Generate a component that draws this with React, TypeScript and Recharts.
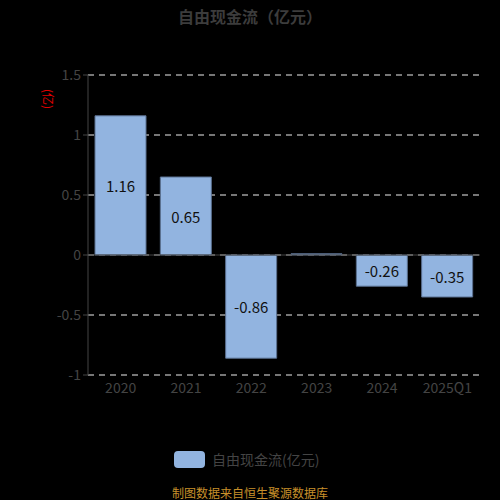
import { Bar, BarChart, CartesianGrid, LabelList, ReferenceLine, XAxis, YAxis } from 'recharts';

const years = ['2020', '2021', '2022', '2023', '2024', '2025Q1'];
const cashFlow = [1.16, 0.65, -0.86, 0.01, -0.26, -0.35];
const yTicks = [-1, -0.5, 0, 0.5, 1, 1.5];

const chartData = years.map((year, i) => ({ year, value: cashFlow[i] }));

const FONT = "'Noto Sans CJK SC', 'Noto Sans', sans-serif";
const GREY = '#444444';
const BAR = '#92b4e0';

// small values (2023) get no label in the original
const barLabel = (props: any) => {
  const { x, y, width, height, value } = props;
  if (Math.abs(value) < 0.05) return null;
  return (
    <text
      x={x + width / 2}
      y={y + height / 2}
      textAnchor="middle"
      dominantBaseline="central"
      fill="#111"
      fontSize={15}
      fontFamily={FONT}
    >
      {value}
    </text>
  );
};

export default function App() {
  return (
    <div style={{ position: 'absolute', left: 0, top: 0, width: 500, height: 500, background: '#000', fontFamily: FONT }}>
      <div style={{ position: 'absolute', top: 4, width: 500, textAlign: 'center', color: '#3c3c3c', fontSize: 16, fontWeight: 'bold' }}>
        自由现金流（亿元）
      </div>
      <BarChart width={500} height={500} data={chartData} margin={{ top: 75, right: 20, bottom: 95, left: 0 }}>
        <CartesianGrid horizontal vertical={false} stroke="#eeeeee" strokeDasharray="6 5" />
        <XAxis
          dataKey="year"
          axisLine={false}
          tickLine={false}
          tick={{ fill: GREY, fontSize: 14, fontFamily: FONT }}
          interval={0}
          height={30}
        />
        <YAxis
          width={88}
          domain={[-1, 1.5]}
          ticks={yTicks}
          interval={0}
          axisLine={{ stroke: GREY }}
          tickLine={{ stroke: GREY }}
          tickSize={5}
          tick={{ fill: GREY, fontSize: 14, fontFamily: FONT }}
          label={{ value: '(亿)', angle: 90, position: 'insideTopLeft', offset: 0, dx: 52, dy: 14, fill: '#e00000', fontSize: 12 } as any}
        />
        <ReferenceLine y={0} stroke={GREY} strokeWidth={1} />
        <Bar dataKey="value" fill={BAR} stroke="#5b7090" strokeWidth={1} barSize={51} isAnimationActive={false}>
          <LabelList dataKey="value" content={barLabel} />
        </Bar>
      </BarChart>
      <div style={{ position: 'absolute', left: 174, top: 451, width: 31, height: 17, background: BAR, borderRadius: 4 }} />
      <div style={{ position: 'absolute', left: 212, top: 449, color: GREY, fontSize: 14, lineHeight: '20px' }}>自由现金流(亿元)</div>
      <div style={{ position: 'absolute', top: 485, width: 500, textAlign: 'center', color: '#c8902a', fontSize: 12, lineHeight: '16px' }}>
        制图数据来自恒生聚源数据库
      </div>
    </div>
  );
}
